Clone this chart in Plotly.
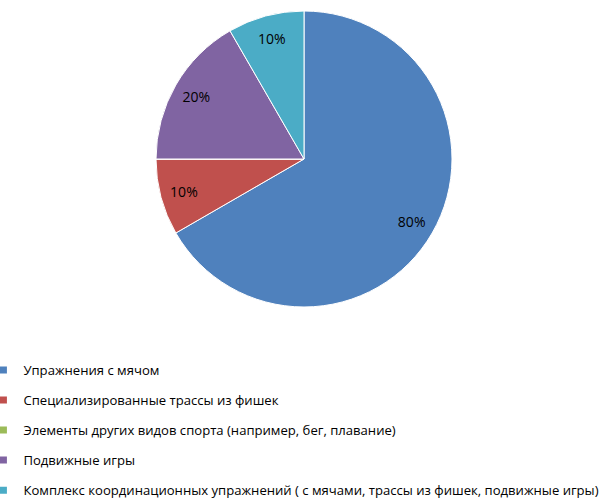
import plotly.graph_objects as go

# Shares of training content (values are shown as percent labels)
categories = [
    "Упражнения с мячом",
    "Специализированные трассы из фишек",
    "Элементы других видов спорта (например, бег, плавание)",
    "Подвижные игры",
    "Комплекс координационных упражнений ( с мячами, трассы из фишек, подвижные игры)",
]
values = [80, 10, 0, 20, 10]
colors = ["#4F81BD", "#C0504D", "#9BBB59", "#8064A2", "#4BACC6"]

labels_text = [f"{v}%" if v else "" for v in values]

FONT = "Open Sans, Liberation Sans, DejaVu Sans, sans-serif"
pie_domain = dict(x=[156 / 612, 452 / 612], y=[1 - 307 / 500, 1 - 11 / 500])

fig = go.Figure()

# Filled slices
fig.add_trace(go.Pie(
    labels=categories,
    values=values,
    sort=False,
    direction="clockwise",
    rotation=0,
    marker=dict(colors=colors, line=dict(color="white", width=1)),
    textinfo="none",
    showlegend=False,
    hoverinfo="skip",
    domain=pie_domain,
))

# Transparent ring carrying the value labels near the rim
fig.add_trace(go.Pie(
    labels=categories,
    values=values,
    sort=False,
    direction="clockwise",
    rotation=0,
    hole=0.68,
    marker=dict(colors=["rgba(0,0,0,0)"] * len(values), line=dict(width=0)),
    text=labels_text,
    textinfo="text",
    textposition="inside",
    insidetextorientation="horizontal",
    textfont=dict(family=FONT, size=14, color="#000000"),
    showlegend=False,
    hoverinfo="skip",
    domain=pie_domain,
))

# Legend entries, one group each so they can be spaced apart
for i, (name, col) in enumerate(zip(categories, colors)):
    fig.add_trace(go.Scatter(
        x=[None], y=[None],
        mode="markers",
        name=name,
        legendgroup=f"g{i}",
        marker=dict(symbol="square", size=7, color=col),
        hoverinfo="skip",
    ))

fig.update_layout(
    width=612,
    height=500,
    margin=dict(l=0, r=0, t=0, b=0, autoexpand=False),
    paper_bgcolor="white",
    plot_bgcolor="white",
    xaxis=dict(visible=False),
    yaxis=dict(visible=False),
    legend=dict(
        x=-0.0271, y=0.29, xanchor="left", yanchor="top",
        font=dict(family=FONT, size=13.1, color="#000000"),
        tracegroupgap=10,
        itemwidth=30,
        bgcolor="rgba(0,0,0,0)",
    ),
    showlegend=True,
)

fig.write_html("out.html")
